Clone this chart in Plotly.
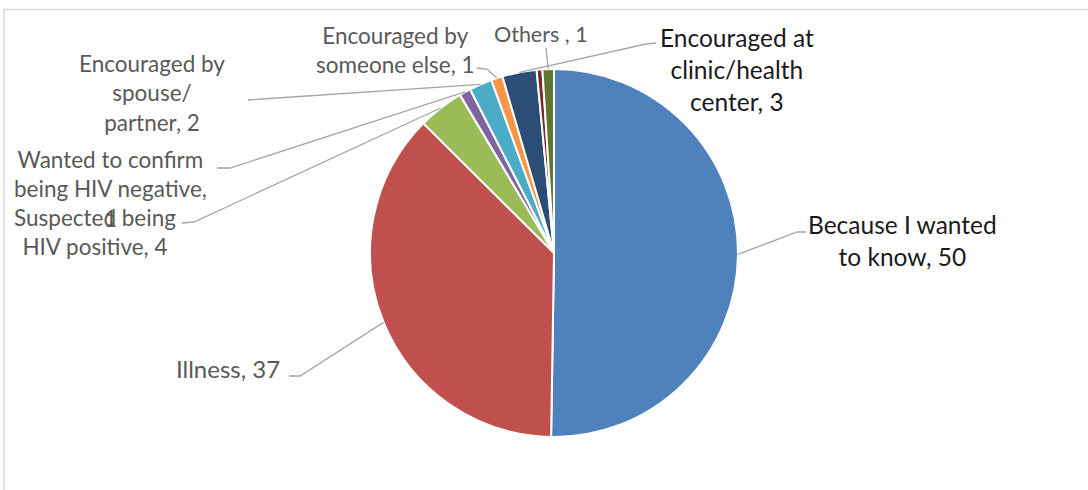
import numpy as np
import plotly.graph_objects as go

# Reasons for taking an HIV test (clockwise from 12 o'clock)
reasons = [
    "Because I wanted to know",
    "Illness",
    "Suspected being HIV positive",
    "Wanted to confirm being HIV negative",
    "Encouraged by spouse/partner",
    "Encouraged by someone else",
    "Encouraged at clinic/health center",
    "Unspecified",
    "Others",
]
counts = [50, 37, 4, 1, 2, 1, 3, 0.5, 1]
colors = ["#4F81BD", "#C0504D", "#9BBB59", "#8064A2", "#4BACC6",
          "#F79646", "#2C4D75", "#772C2A", "#5F7530"]

# Label text per slice (None = no label)
label_texts = [
    "Because I wanted<br>to know, 50",
    "Illness, 37",
    "Suspected being<br>HIV positive, 4",
    "Wanted to confirm<br>being HIV negative,<br>1",
    "Encouraged by<br>spouse/<br>partner, 2",
    "Encouraged by<br>someone else, 1",
    "Encouraged at<br>clinic/health<br>center, 3",
    None,
    "Others , 1",
]
# label centre (px), font size and leader-line start points (px) per slice
label_pos = [(902, 240), (228, 368), (95, 232), (110, 189), (152, 93),
             (395, 50), (737, 69), None, (541, 34)]
label_size = [24.5, 24, 22.5, 22.5, 22.5, 22.5, 24.5, None, 21.5]
leader_start = [[(806, 232), (797, 232)],
                [(289, 376), (300, 376)],
                [(182, 223), (194, 222)],
                [(217, 168), (230, 168)],
                [(248, 100), (262, 99)],
                [(477, 68), (487, 69)],
                [(656, 43), (646, 44)],
                None,
                [(546, 48)]]
dark_labels = {0, 6}

W, H = 1088, 490
CX, CY, R = 554, 253, 184


def px(x):
    return x / W


def py(y):
    return 1 - y / H


fig = go.Figure(go.Pie(
    labels=reasons,
    values=counts,
    sort=False,
    direction="clockwise",
    rotation=0,
    textinfo="none",
    hoverinfo="label+value",
    marker=dict(colors=colors, line=dict(color="white", width=2)),
    domain=dict(x=[px(CX - R), px(CX + R)], y=[py(CY + R), py(CY - R)]),
    showlegend=False,
))

# slice mid-angles from the data, used to attach the leader lines
vals = np.array(counts, dtype=float)
cum = np.cumsum(vals) - vals / 2
mid_deg = cum / vals.sum() * 360.0

shapes = [dict(type="rect", xref="paper", yref="paper",
               x0=px(4), x1=px(1095), y0=py(9.5), y1=py(500),
               line=dict(color="#D9D9D9", width=1.5), fillcolor="rgba(0,0,0,0)",
               layer="below")]
annotations = []
for i, txt in enumerate(label_texts):
    if txt is None:
        continue
    a = np.deg2rad(mid_deg[i])
    ex = CX + R * np.sin(a)
    ey = CY - R * np.cos(a)
    pts = leader_start[i] + [(ex, ey)]
    path = "M " + " L ".join(f"{px(x):.5f},{py(y):.5f}" for x, y in pts)
    shapes.append(dict(type="path", xref="paper", yref="paper", path=path,
                       line=dict(color="#A6A6A6", width=1.3)))
    lx, ly = label_pos[i]
    dark = i in dark_labels
    annotations.append(dict(
        x=px(lx), y=py(ly), xref="paper", yref="paper",
        xanchor="center", yanchor="middle", showarrow=False, align="center",
        text=txt,
        font=dict(family="Lato", size=label_size[i],
                  color="#1A1A1A" if dark else "#595959"),
    ))

fig.update_layout(
    width=W, height=H,
    margin=dict(l=0, r=0, t=0, b=0),
    paper_bgcolor="white",
    plot_bgcolor="white",
    shapes=shapes,
    annotations=annotations,
)

fig.write_html("out.html")
